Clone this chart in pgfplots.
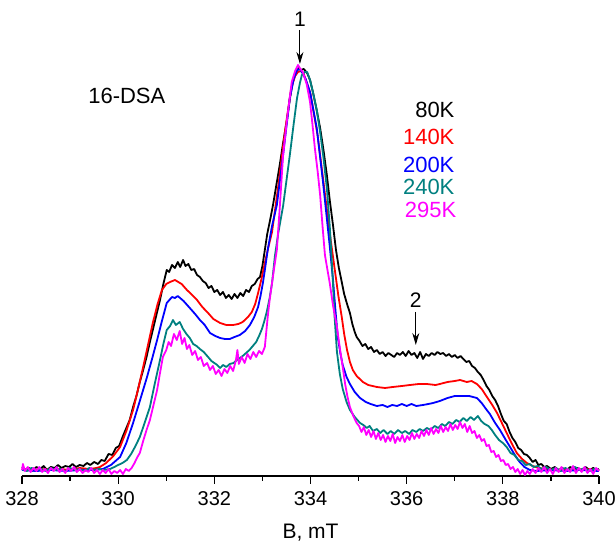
\documentclass[border=0pt]{standalone}
\usepackage{fontspec}
\setmainfont{Liberation Sans}
\usepackage{pgfplots}
\pgfplotsset{compat=1.18}
\usetikzlibrary{arrows.meta}
\definecolor{tealc}{RGB}{0,128,128}
\definecolor{magc}{RGB}{255,0,255}
\definecolor{redc}{RGB}{255,0,0}
\definecolor{bluec}{RGB}{0,0,255}
\begin{document}
\begin{tikzpicture}
\begin{axis}[name=ax, scale only axis, width=288.5pt, height=238pt,
 xmin=328, xmax=340, ymin=0, ymax=476,
 axis x line=bottom, axis y line=none, axis line style={-, line width=0.6pt},
 xtick={328,330,...,340}, minor xtick={329,331,...,339},
 tick align=outside, major tick length=4pt, minor tick length=2.5pt,
 tick style={black, line width=0.6pt},
 /pgf/number format/assume math mode=true,
 ticklabel style={font=\fontsize{10}{12}\selectfont},
 xlabel={B, mT}, xlabel style={font=\fontsize{10.5}{12}\selectfont, at={(axis description cs:0.5,0)}, anchor=center, yshift=-28.5pt},
 clip=false,
 every axis plot/.append style={line width=0.9pt, line join=round},
]
% 80K
\addplot[black] coordinates {
(328.00,9)(328.08,6)(328.15,8)(328.22,5)(328.30,9)(328.38,7)(328.45,10)(328.52,6)(328.60,9)(328.68,8)(328.75,11)(328.82,8)(328.90,10)(328.98,9)(329.05,12)(329.12,9)(329.20,11)(329.28,10)(329.35,13)(329.42,11)(329.50,14)(329.58,12)(329.65,16)(329.72,15)(329.80,22)(329.88,21)(329.95,28)(330.02,30)(330.10,40)(330.17,48)(330.24,56)(330.31,69)(330.38,80)(330.45,94)(330.52,106)(330.59,119)(330.66,134)(330.72,146)(330.80,162)(330.87,176)(330.94,192)(331.01,206)(331.06,204)(331.12,211)(331.18,208)(331.24,214)(331.29,209)(331.35,216)(331.40,210)(331.46,212)(331.52,206)(331.58,207)(331.64,201)(331.70,199)(331.76,195)(331.82,193)(331.88,188)(331.94,190)(332.00,184)(332.06,186)(332.12,181)(332.18,184)(332.24,178)(332.30,181)(332.36,177)(332.42,182)(332.48,178)(332.54,183)(332.60,180)(332.66,186)(332.72,184)(332.78,190)(332.84,192)(332.90,197)(332.95,199)(333.00,210)(333.05,226)(333.10,242)(333.16,256)(333.22,271)(333.29,291)(333.36,311)(333.43,333)(333.51,356)(333.57,377)(333.63,394)(333.70,404)(333.76,408)(333.80,406)(333.86,407)(333.93,403)(333.99,396)(334.05,384)(334.12,368)(334.20,348)(334.27,326)(334.34,301)(334.40,276)(334.47,250)(334.53,226)(334.59,208)(334.65,194)(334.70,182)(334.76,172)(334.82,163)(334.87,152)(334.92,144)(334.96,139)(335.02,135)(335.08,130)(335.14,132)(335.20,127)(335.26,129)(335.32,124)(335.38,126)(335.44,122)(335.50,124)(335.56,120)(335.62,123)(335.68,121)(335.74,119)(335.80,123)(335.86,121)(335.92,124)(335.98,120)(336.04,125)(336.10,121)(336.16,123)(336.22,118)(336.28,124)(336.34,117)(336.40,122)(336.46,120)(336.52,123)(336.58,121)(336.64,124)(336.70,122)(336.76,123)(336.82,120)(336.88,122)(336.94,119)(337.00,121)(337.06,118)(337.12,120)(337.18,117)(337.24,114)(337.30,115)(337.36,110)(337.42,108)(337.48,104)(337.54,101)(337.60,96)(337.66,90)(337.72,86)(337.78,80)(337.84,76)(337.90,70)(337.96,62)(338.02,55)(338.08,52)(338.14,44)(338.20,38)(338.26,34)(338.32,28)(338.38,26)(338.44,22)(338.50,21)(338.56,18)(338.62,14)(338.68,16)(338.74,11)(338.80,12)(338.86,9)(338.92,10)(339.00,7)(339.08,9)(339.16,6)(339.24,8)(339.32,5)(339.40,9)(339.48,7)(339.56,8)(339.64,5)(339.72,9)(339.80,6)(339.88,8)(339.96,6)(340.00,7)
};
% 140K
\addplot[redc] coordinates {
(328.00,7)(328.2,6)(328.4,7)(328.6,6)(328.8,7)(329.0,6)(329.2,8)(329.4,7)(329.55,8)(329.62,9)(329.75,13)(329.90,20)(330.04,29)(330.17,45)(330.31,66)(330.42,88)(330.52,109)(330.62,131)(330.72,153)(330.82,172)(330.91,186)(331.00,192)(331.08,194)(331.18,196)(331.25,194)(331.32,192)(331.43,186)(331.54,181)(331.64,176)(331.75,169)(331.87,163)(331.98,157)(332.12,153)(332.25,151)(332.39,151)(332.50,152)(332.59,154)(332.70,159)(332.78,164)(332.85,172)(332.91,183)(332.98,197)(333.05,213)(333.12,228)(333.20,244)(333.33,290)(333.47,345)(333.60,388)(333.68,400)(333.74,404)(333.80,405)(333.86,402)(334.00,382)(334.15,340)(334.28,290)(334.42,236)(334.50,208)(334.58,180)(334.65,159)(334.70,142)(334.76,126)(334.82,114)(334.88,106)(334.96,100)(335.09,94)(335.20,91)(335.38,89)(335.55,88)(335.71,89)(335.90,90)(336.07,91)(336.25,92)(336.42,92)(336.60,91)(336.69,92)(336.85,94)(337.00,95)(337.11,96)(337.25,94)(337.35,95)(337.46,92)(337.56,87)(337.67,79)(337.78,71)(337.88,63)(337.98,53)(338.08,43)(338.18,33)(338.29,23)(338.40,17)(338.50,13)(338.62,10)(338.75,8)(338.9,7)(339.1,6)(339.3,7)(339.5,6)(339.7,7)(340.0,6)
};
% 200K
\addplot[bluec] coordinates {
(328.00,6)(328.3,5)(328.6,6)(328.9,5)(329.2,6)(329.5,6)(329.68,7)(329.85,11)(330.04,19)(330.17,33)(330.31,53)(330.45,75)(330.60,99)(330.71,118)(330.81,136)(330.91,155)(331.01,173)(331.12,179)(331.18,178)(331.24,180)(331.36,175)(331.49,168)(331.60,162)(331.70,156)(331.80,151)(331.91,143)(332.02,140)(332.12,138)(332.22,137)(332.32,137)(332.42,139)(332.53,141)(332.64,145)(332.74,151)(332.83,159)(332.91,169)(332.96,180)(333.01,193)(333.06,209)(333.11,226)(333.20,250)(333.30,271)(333.43,321)(333.57,378)(333.65,397)(333.72,406)(333.78,407)(333.82,404)(333.90,397)(333.99,384)(334.13,348)(334.26,294)(334.40,230)(334.47,195)(334.52,165)(334.57,138)(334.62,123)(334.67,111)(334.75,99)(334.82,92)(334.92,84)(335.03,78)(335.15,74)(335.25,72)(335.38,70)(335.50,71)(335.60,69)(335.70,71)(335.80,70)(335.90,72)(336.00,70)(336.10,72)(336.20,70)(336.34,71)(336.45,72)(336.55,73)(336.69,75)(336.85,78)(337.00,80)(337.15,80)(337.30,80)(337.46,78)(337.56,73)(337.65,67)(337.73,62)(337.84,53)(337.94,46)(338.05,37)(338.15,29)(338.25,21)(338.35,14)(338.45,9)(338.56,6)(338.7,5)(339.0,6)(339.3,5)(339.6,6)(340.0,5)
};
% 240K
\addplot[tealc] coordinates {
(328.00,7)(328.1,5)(328.2,8)(328.3,6)(328.4,7)(328.5,5)(328.6,8)(328.7,6)(328.8,7)(328.9,5)(329.0,8)(329.1,6)(329.2,7)(329.3,5)(329.4,8)(329.5,6)(329.6,7)(329.7,6)(329.83,7)(329.92,9)(330.00,11)(330.09,13)(330.18,16)(330.27,22)(330.36,30)(330.45,39)(330.55,53)(330.66,69)(330.76,92)(330.87,116)(330.94,132)(331.01,146)(331.08,150)(331.14,156)(331.20,151)(331.28,154)(331.35,147)(331.42,142)(331.49,138)(331.56,132)(331.63,130)(331.70,127)(331.78,124)(331.87,119)(331.94,115)(332.00,113)(332.06,111)(332.12,108)(332.18,111)(332.25,109)(332.32,112)(332.40,113)(332.47,116)(332.53,118)(332.59,120)(332.66,123)(332.73,126)(332.80,130)(332.87,134)(332.93,140)(332.99,147)(333.04,155)(333.09,164)(333.15,178)(333.20,193)(333.26,220)(333.33,243)(333.43,270)(333.57,321)(333.65,352)(333.72,378)(333.78,393)(333.82,401)(333.88,404)(333.93,404)(333.99,396)(334.05,384)(334.13,366)(334.20,344)(334.27,318)(334.34,288)(334.40,250)(334.46,200)(334.50,160)(334.55,124)(334.61,102)(334.67,87)(334.75,74)(334.82,66)(334.92,59)(335.03,53)(335.10,51)(335.17,48)(335.23,50)(335.30,45)(335.38,47)(335.45,43)(335.52,46)(335.60,42)(335.67,45)(335.74,42)(335.82,46)(335.90,43)(335.97,45)(336.05,42)(336.12,46)(336.20,44)(336.27,47)(336.34,45)(336.42,48)(336.50,46)(336.58,50)(336.66,48)(336.73,52)(336.80,50)(336.88,54)(336.95,52)(337.03,56)(337.10,54)(337.18,58)(337.25,55)(337.33,59)(337.40,56)(337.48,60)(337.55,55)(337.62,52)(337.70,50)(337.77,46)(337.84,41)(337.92,36)(338.00,33)(338.08,29)(338.16,23)(338.24,21)(338.32,16)(338.40,15)(338.48,11)(338.56,12)(338.64,9)(338.72,10)(338.80,7)(338.9,9)(339.0,6)(339.1,8)(339.2,5)(339.3,8)(339.4,6)(339.5,9)(339.6,6)(339.7,8)(339.8,5)(339.9,7)(340.0,6)
};
% 295K
\addplot[magc] coordinates {
(328.00,6)(328.02,12)(328.06,5)(328.12,9)(328.18,4)(328.24,8)(328.30,5)(328.36,9)(328.42,4)(328.48,7)(328.54,3)(328.60,8)(328.66,5)(328.72,9)(328.78,4)(328.84,7)(328.90,3)(328.96,8)(329.02,5)(329.08,9)(329.14,4)(329.20,7)(329.26,3)(329.32,6)(329.38,4)(329.44,8)(329.50,3)(329.56,6)(329.62,2)(329.68,6)(329.74,3)(329.80,7)(329.86,2)(329.92,5)(329.98,3)(330.04,6)(330.10,2)(330.16,7)(330.22,5)(330.28,8)(330.34,13)(330.40,19)(330.45,23)(330.52,35)(330.59,46)(330.66,56)(330.74,72)(330.81,86)(330.87,103)(330.93,119)(331.00,126)(331.05,134)(331.10,130)(331.16,142)(331.22,136)(331.28,145)(331.33,132)(331.38,138)(331.43,127)(331.48,131)(331.54,121)(331.60,125)(331.66,116)(331.72,119)(331.78,110)(331.85,113)(331.91,106)(331.97,110)(332.03,102)(332.09,106)(332.15,100)(332.21,107)(332.27,103)(332.33,110)(332.39,105)(332.45,116)(332.48,126)(332.51,112)(332.57,119)(332.63,113)(332.69,122)(332.75,117)(332.81,124)(332.87,119)(332.93,125)(332.99,122)(333.05,129)(333.11,159)(333.15,176)(333.20,193)(333.25,210)(333.30,226)(333.36,268)(333.43,321)(333.52,360)(333.61,394)(333.68,405)(333.74,411)(333.79,407)(333.84,404)(333.92,392)(333.99,374)(334.04,352)(334.09,328)(334.15,304)(334.20,281)(334.25,250)(334.30,221)(334.36,204)(334.40,193)(334.47,170)(334.55,149)(334.61,128)(334.67,109)(334.72,92)(334.77,79)(334.82,69)(334.89,60)(334.96,53)(335.01,50)(335.06,44)(335.11,49)(335.16,41)(335.21,46)(335.26,39)(335.31,45)(335.36,37)(335.41,43)(335.46,36)(335.51,41)(335.56,34)(335.61,40)(335.66,35)(335.71,42)(335.76,33)(335.81,39)(335.86,35)(335.91,41)(335.96,34)(336.01,40)(336.06,36)(336.11,43)(336.16,37)(336.21,42)(336.26,38)(336.31,45)(336.36,40)(336.41,46)(336.46,41)(336.51,48)(336.56,42)(336.61,47)(336.66,43)(336.71,50)(336.76,44)(336.81,49)(336.86,45)(336.91,52)(336.96,46)(337.01,51)(337.06,47)(337.11,54)(337.16,48)(337.21,52)(337.26,44)(337.31,50)(337.36,43)(337.41,45)(337.46,38)(337.51,41)(337.56,35)(337.61,37)(337.66,30)(337.71,31)(337.76,24)(337.81,25)(337.86,19)(337.91,21)(337.96,15)(338.01,16)(338.06,11)(338.11,12)(338.16,7)(338.21,9)(338.26,4)(338.31,7)(338.36,2)(338.41,6)(338.46,1)(338.51,5)(338.56,2)(338.62,7)(338.68,3)(338.74,8)(338.80,4)(338.86,9)(338.92,3)(338.98,7)(339.04,2)(339.10,8)(339.16,4)(339.22,9)(339.28,3)(339.34,7)(339.40,4)(339.46,10)(339.52,3)(339.58,8)(339.64,4)(339.70,9)(339.76,3)(339.82,7)(339.88,2)(339.94,8)(340.00,5)
};
% annotations
\node[font=\fontsize{10.5}{12}\selectfont] at (axis cs:333.78,457) {1};
\draw[line width=0.5pt, -{Stealth[length=6pt,width=3.5pt]}] (axis cs:333.78,446) -- (axis cs:333.78,412);
\node[font=\fontsize{10.5}{12}\selectfont] at (axis cs:336.19,176) {2};
\draw[line width=0.5pt, -{Stealth[length=6pt,width=3.5pt]}] (axis cs:336.19,164) -- (axis cs:336.19,131);
\node[font=\fontsize{11}{13}\selectfont] at (axis cs:330.18,380) {16-DSA};
\node[font=\fontsize{11}{13}\selectfont, anchor=east, text=black] at (axis cs:337.14,366) {80K};
\node[font=\fontsize{11}{13}\selectfont, anchor=east, text=redc] at (axis cs:337.14,339) {140K};
\node[font=\fontsize{11}{13}\selectfont, anchor=east, text=bluec] at (axis cs:337.14,311) {200K};
\node[font=\fontsize{11}{13}\selectfont, anchor=east, text=tealc] at (axis cs:337.14,289) {240K};
\node[font=\fontsize{11}{13}\selectfont, anchor=east, text=magc] at (axis cs:337.18,266) {295K};
\end{axis}
\pgfresetboundingbox
\path[use as bounding box] ([shift={(-11pt,-34.5pt)}]ax.south west) rectangle ([shift={(8pt,0pt)}]ax.north east);
\end{tikzpicture}
\end{document}
